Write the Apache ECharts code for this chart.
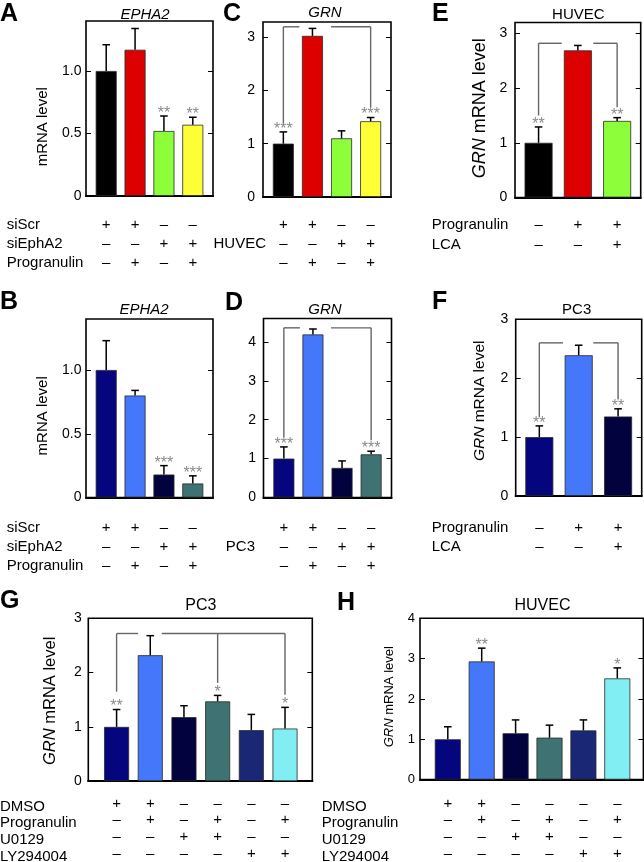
<!DOCTYPE html>
<html><head><meta charset="utf-8">
<script src="https://cdn.jsdelivr.net/npm/echarts@6/dist/echarts.min.js"></script>
<style>html,body{margin:0;padding:0;background:#fff}#c{width:644px;height:862px}</style>
</head><body><div id="c"></div>
<script>
// ---------------- DATA ----------------
const colorsRed  = ['#000000', '#dd0000', '#8cff3a', '#ffff38'];
const colorsBlue = ['#05057e', '#4577fb', '#02023f', '#3f7272'];
const colorsSix  = ['#05057e', '#4577fb', '#02023f', '#3f7272', '#1a2775', '#80eef3'];

const valuesA = [1.00, 1.17, 0.52, 0.57];
const errorsA = [1.21, 1.34, 0.64, 0.63];
const starsA  = ['', '', '**', '**'];

const valuesB = [1.00, 0.80, 0.18, 0.11];
const errorsB = [1.23, 0.84, 0.25, 0.17];
const starsB  = ['', '', '***', '***'];

const valuesC = [1.00, 3.02, 1.10, 1.42];
const errorsC = [1.22, 3.16, 1.24, 1.49];
const starsC  = ['***', '', '', '***'];

const valuesD = [1.00, 4.19, 0.76, 1.11];
const errorsD = [1.30, 4.33, 0.94, 1.19];
const starsD  = ['***', '', '', '***'];

const valuesE = [1.00, 2.69, 1.40];
const errorsE = [1.29, 2.78, 1.46];
const starsE  = ['**', '', '**'];

const valuesF = [1.00, 2.39, 1.35];
const errorsF = [1.19, 2.56, 1.48];
const starsF  = ['**', '', '**'];

const valuesG = [1.00, 2.32, 1.18, 1.47, 0.94, 0.97];
const errorsG = [1.32, 2.68, 1.39, 1.58, 1.23, 1.36];
const starsG  = ['**', '', '', '*', '', '*'];

const valuesH = [1.00, 2.93, 1.15, 1.04, 1.22, 2.51];
const errorsH = [1.31, 3.26, 1.48, 1.35, 1.48, 2.77];
const starsH  = ['', '**', '', '', '', '*'];

// comparison brackets, segments [x1, y1, x2, y2] in data units
const bracketC = [[0,1.38,0,3.19],[0,3.19,0.55,3.19],[1.64,3.19,3,3.19],[3,3.19,3,1.68]];
const bracketD = [[0,1.55,0,4.36],[0,4.36,0.55,4.36],[1.62,4.36,3,4.36],[3,4.36,3,1.47]];
const bracketE = [[0,1.50,0,2.82],[0,2.82,0.59,2.82],[1.39,2.82,2,2.82],[2,2.82,2,1.65]];
const bracketF = [[0,1.34,0,2.60],[0,2.60,0.60,2.60],[1.37,2.60,2,2.60],[2,2.60,2,1.64]];
const bracketG = [[0,1.65,0,2.72],[0,2.72,0.64,2.72],[1.34,2.72,5,2.72],[3,2.72,3,1.81],[5,2.72,5,1.59]];

// y tick values
const ticksAB = [0, 0.5, 1.0];
const ticks3  = [0, 1, 2, 3];
const ticks4  = [0, 1, 2, 3, 4];

// treatment tables
const rowsAB = ['siScr', 'siEphA2', 'Progranulin'];
const rowsC  = ['', 'HUVEC', ''];
const rowsD  = ['', 'PC3', ''];
const signs4 = [['+','+','–','–'], ['–','–','+','+'], ['–','+','–','+']];
const rowsEF = ['Progranulin', 'LCA'];
const signs3 = [['–','+','+'], ['–','–','+']];
const rowsGH = ['DMSO', 'Progranulin', 'U0129', 'LY294004'];
const signs6 = [['+','+','–','–','–','–'], ['–','+','–','+','–','+'], ['–','–','+','+','–','–'], ['–','–','–','–','+','+']];

// titles
const titlesText = ['EPHA2', 'EPHA2', 'GRN', 'GRN', 'HUVEC', 'PC3', 'PC3', 'HUVEC'];
const letters = ['A', 'B', 'C', 'D', 'E', 'F', 'G', 'H'];

// ---------------- LAYOUT ----------------
const FF = '"Liberation Sans", Arial, Helvetica, sans-serif';
const panels = [
  {L:'A', title:0, grid:{left:86, top:21, width:127, height:175}, xr:[-0.7,3.7], ymax:1.4, ticks:ticksAB, dec:1,
   v:valuesA, e:errorsA, s:starsA, c:colorsRed, bw:21, signs:signs4, rows:rowsAB, rowX:6.7, rowAlign:'left', lh:19, xm:19.5, ym:4.5,
   letter:[0,14], tpos:[145,15.3], yname:{t:'mRNA level', x:42.5, y:126.7, fs:15}},
  {L:'B', title:1, grid:{left:86, top:319, width:127, height:178.5}, xr:[-0.7,3.7], ymax:1.4, ticks:ticksAB, dec:1,
   v:valuesB, e:errorsB, s:starsB, c:colorsBlue, bw:21, signs:signs4, rows:rowsAB, rowX:6.7, rowAlign:'left', lh:18.7, xm:21.5, ym:4.5,
   letter:[0,302.5], tpos:[144,310], yname:{t:'mRNA level', x:42.5, y:415.8, fs:15}},
  {L:'C', title:2, grid:{left:263, top:22, width:128, height:175}, xr:[-0.7,3.7], ymax:3.28, ticks:ticks3, dec:0,
   v:valuesC, e:errorsC, s:starsC, c:colorsRed, bw:21, signs:signs4, rows:rowsC, rowX:266, rowAlign:'right', lh:19.3, xm:18, ym:8,
   letter:[223,14], tpos:[325,13], br:bracketC},
  {L:'D', title:3, grid:{left:263.5, top:318.5, width:128, height:179}, xr:[-0.7,3.7], ymax:4.6, ticks:ticks4, dec:0,
   v:valuesD, e:errorsD, s:starsD, c:colorsBlue, bw:21, signs:signs4, rows:rowsD, rowX:255, rowAlign:'right', lh:19, xm:20.7, ym:7.5,
   letter:[225,303], tpos:[325,310], br:bracketD},
  {L:'E', title:4, grid:{left:515, top:22.5, width:125.7, height:175}, xr:[-0.6,2.6], ymax:3.2, ticks:ticks3, dec:0,
   v:valuesE, e:errorsE, s:starsE, c:colorsRed, bw:28, signs:signs3, rows:rowsEF, rowX:431.7, rowAlign:'left', lh:20, xm:17.5, ym:7.7,
   letter:[432,14], tpos:[578.3,14.5], br:bracketE, yname:{t:'{i|GRN} mRNA level', x:480, y:108.3, fs:18}},
  {L:'F', title:5, grid:{left:515.7, top:319.3, width:126, height:176.7}, xr:[-0.6,2.6], ymax:3, ticks:ticks3, dec:0,
   v:valuesF, e:errorsF, s:starsF, c:colorsBlue.slice(0,3), bw:28, signs:signs3, rows:rowsEF, rowX:431.7, rowAlign:'left', lh:18.5, xm:23, ym:7.4,
   letter:[432,302.5], tpos:[576.7,310], br:bracketF, yname:{t:'{i|GRN} mRNA level', x:480, y:400.8, fs:15.5}},
  {L:'G', title:6, grid:{left:88.3, top:618.3, width:224, height:166}, xr:[-0.84,5.81], ymax:3, ticks:ticks3, dec:0,
   v:valuesG, e:errorsG, s:starsG, c:colorsSix, bw:25, signs:signs6, rows:rowsGH, rowX:0, rowAlign:'left', lh:16.7, xm:14, ym:6.6,
   letter:[0,601.5], tpos:[200.8,605.8], br:bracketG, yname:{t:'{i|GRN} mRNA level', x:50.8, y:700.8, fs:16.5}},
  {L:'H', title:7, grid:{left:420, top:618.3, width:223.4, height:164.4}, xr:[-0.82,5.77], ymax:4, ticks:ticks4, dec:0,
   v:valuesH, e:errorsH, s:starsH, c:colorsSix, bw:26, signs:signs6, rows:rowsGH, rowX:321.7, rowAlign:'left', lh:16.7, xm:15.6, ym:5,
   letter:[337,603], tpos:[542.5,605.8], yname:{t:'{i|GRN} mRNA level', x:389, y:696.7, fs:13}}
];

const grids = [], xAxes = [], yAxes = [], series = [], graphics = [];

panels.forEach((p, i) => {
  grids.push(Object.assign({show:true, borderColor:'#000', borderWidth:1.6, backgroundColor:'transparent'}, p.grid));
  const n = p.v.length;
  const idx = [...Array(n).keys()];
  xAxes.push({
    gridIndex:i, type:'value', min:p.xr[0], max:p.xr[1],
    axisLine:{show:true, onZero:false, lineStyle:{color:'#000', width:2.2}},
    axisTick:{show:false}, splitLine:{show:false},
    axisLabel:{customValues: idx, margin:p.xm, lineHeight:p.lh, fontSize:15, fontFamily:FF, color:'#000',
      formatter: (val) => { const k = Math.round(val); return p.signs.map(r => r[k]).join('\n'); }}
  });
  const fmt = (val) => val === 0 ? '0' : (p.dec ? val.toFixed(1) : String(val));
  yAxes.push({
    gridIndex:i, type:'value', min:0, max:p.ymax, position:'left',
    axisLine:{show:false, onZero:false},
    axisTick:{show:true, inside:true, length:5, customValues:p.ticks, lineStyle:{color:'#000', width:1}},
    axisLabel:{customValues:p.ticks, margin:p.ym, fontSize:(p.L==='H'?13:14), fontFamily:FF, color:'#000', formatter:fmt},
    splitLine:{show:false}
  });
  yAxes.push({
    gridIndex:i, type:'value', min:0, max:p.ymax, position:'right',
    axisLine:{show:false, onZero:false},
    axisTick:{show:true, inside:true, length:5, customValues:p.ticks, lineStyle:{color:'#000', width:1}},
    axisLabel:{show:false}, splitLine:{show:false}
  });
  const yi = 2 * i;
  series.push({
    type:'bar', xAxisIndex:i, yAxisIndex:yi, barWidth:p.bw, silent:true, z:2,
    itemStyle:{borderColor:'#2a2a2a', borderWidth:0.8},
    data: p.v.map((val, k) => ({value:[k, val], itemStyle:{color:p.c[k]}}))
  });
  const stars = p.s;
  series.push({
    type:'custom', xAxisIndex:i, yAxisIndex:yi, silent:true, z:3,
    encode:{x:0, y:[1,2]},
    data: p.v.map((val, k) => [k, val, p.e[k]]),
    renderItem: (params, api) => {
      const x = api.value(0);
      const p0 = api.coord([x, api.value(1)]);
      const p1 = api.coord([x, api.value(2)]);
      const ch = [
        {type:'line', shape:{x1:p0[0], y1:p0[1], x2:p1[0], y2:p1[1]}, style:{stroke:'#000', lineWidth:1.5}},
        {type:'line', shape:{x1:p1[0]-3.8, y1:p1[1], x2:p1[0]+3.8, y2:p1[1]}, style:{stroke:'#000', lineWidth:1.5}}
      ];
      const st = stars[params.dataIndex];
      if (st) ch.push({type:'text', x:p1[0], y:p1[1]-2.5,
        style:{text:st, fill:'#8a8a8a', fontSize:16, fontFamily:FF, align:'center', verticalAlign:'middle'}});
      return {type:'group', children:ch};
    }
  });
  if (p.br) {
    series.push({
      type:'custom', xAxisIndex:i, yAxisIndex:yi, silent:true, z:4,
      encode:{x:[0,2], y:[1,3]},
      data: p.br,
      renderItem: (params, api) => {
        const a = api.coord([api.value(0), api.value(1)]);
        const b = api.coord([api.value(2), api.value(3)]);
        return {type:'line', shape:{x1:a[0], y1:a[1], x2:b[0], y2:b[1]}, style:{stroke:'#666', lineWidth:1.4}};
      }
    });
  }
  // panel letter
  graphics.push({type:'text', x:p.letter[0], y:p.letter[1],
    style:{text:letters[i], fontSize:25, fontWeight:'bold', fontFamily:FF, fill:'#000', align:'left', verticalAlign:'middle'}});
  // title
  const t = titlesText[p.title];
  const italic = (t === 'EPHA2' || t === 'GRN');
  graphics.push({type:'text', x:p.tpos[0], y:p.tpos[1],
    style:{text:t, fontSize:(p.L==='G'||p.L==='H')?16:15, fontStyle:italic?'italic':'normal', fontFamily:FF, fill:'#000', align:'center', verticalAlign:'middle'}});
  // y axis name
  if (p.yname) {
    graphics.push({type:'text', x:p.yname.x, y:p.yname.y, rotation:Math.PI/2,
      style:{text:p.yname.t, fontSize:p.yname.fs, fontFamily:FF, fill:'#000', align:'center', verticalAlign:'middle',
        rich:{i:{fontStyle:'italic', fontSize:p.yname.fs, fontFamily:FF, fill:'#000'}}}});
  }
  // row labels
  const axisY = p.grid.top + p.grid.height;
  p.rows.forEach((r, k) => {
    if (!r) return;
    graphics.push({type:'text', x:p.rowX, y:axisY + p.xm + p.lh * (k + 0.5),
      style:{text:r, fontSize:15, fontFamily:FF, fill:'#000', align:p.rowAlign, verticalAlign:'middle'}});
  });
});

const chart = echarts.init(document.getElementById('c'), null, {renderer:'canvas'});
chart.setOption({
  animation:false,
  backgroundColor:'#fff',
  grid:grids, xAxis:xAxes, yAxis:yAxes, series:series,
  graphic:{elements:graphics}
});
</script></body></html>
